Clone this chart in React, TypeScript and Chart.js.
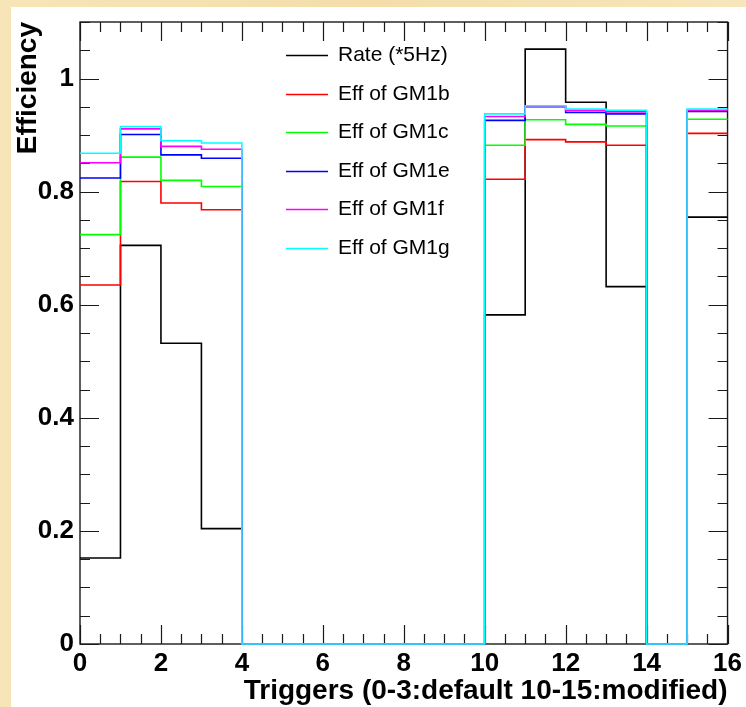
import React, { useEffect, useRef } from "react";
import { Chart, registerables } from "chart.js";

Chart.register(...registerables);

// ---- Data (bins 0..15, width 1) ----
const binLow = [0, 1, 2, 3, 4, 5, 6, 7, 8, 9, 10, 11, 12, 13, 14, 15];
const rate = [0.152, 0.705, 0.532, 0.204, 0, 0, 0, 0, 0, 0, 0.582, 1.052, 0.958, 0.632, 0, 0.755];
const gm1b = [0.635, 0.818, 0.78, 0.768, 0, 0, 0, 0, 0, 0, 0.822, 0.892, 0.888, 0.882, 0, 0.903];
const gm1c = [0.724, 0.861, 0.82, 0.809, 0, 0, 0, 0, 0, 0, 0.882, 0.927, 0.919, 0.916, 0, 0.928];
const gm1e = [0.824, 0.901, 0.865, 0.859, 0, 0, 0, 0, 0, 0, 0.926, 0.95, 0.94, 0.9375, 0, 0.942];
const gm1f = [0.851, 0.911, 0.88, 0.875, 0, 0, 0, 0, 0, 0, 0.933, 0.951, 0.943, 0.941, 0, 0.944];
const gm1g = [0.868, 0.915, 0.89, 0.886, 0, 0, 0, 0, 0, 0, 0.9375, 0.952, 0.946, 0.944, 0, 0.946];

const seriesLabels = ["Rate (*5Hz)", "Eff of GM1b", "Eff of GM1c", "Eff of GM1e", "Eff of GM1f", "Eff of GM1g"];
const seriesValues = [rate, gm1b, gm1c, gm1e, gm1f, gm1g];
const seriesColors = ["#000000", "#ff0000", "#00ff00", "#0000ff", "#ff00ff", "#00ffff"];

const xTickValues = [0, 2, 4, 6, 8, 10, 12, 14, 16];
const yTickValues = [0, 0.2, 0.4, 0.6, 0.8, 1];
const xTitle = "Triggers (0-3:default 10-15:modified)";
const yTitle = "Efficiency";

const FONT = "'Liberation Sans', Arial, Helvetica, sans-serif";

function toSteps(values: number[]) {
  const pts: { x: number; y: number }[] = [];
  values.forEach((v, i) => {
    pts.push({ x: binLow[i], y: v });
    pts.push({ x: binLow[i] + 1, y: v });
  });
  return pts;
}

const framePlugin = {
  id: "rootFrame",
  beforeDatasetsDraw(chart: any) {
    const { ctx, chartArea } = chart;
    const xs = chart.scales.x;
    const ys = chart.scales.y;
    const { left, right, top, bottom } = chartArea;
    ctx.save();
    ctx.strokeStyle = "#1a1a1a";
    ctx.lineWidth = 1.4;
    ctx.strokeRect(left, top, right - left, bottom - top);
    ctx.lineWidth = 1.2;
    ctx.beginPath();
    for (let v = 0; v <= 16.0001; v += 0.5) {
      const px = Math.round(xs.getPixelForValue(v)) + 0.5;
      const major = xTickValues.some((t) => Math.abs(t - v) < 1e-6);
      const len = major ? 19 : 10;
      ctx.moveTo(px, bottom);
      ctx.lineTo(px, bottom - len);
      ctx.moveTo(px, top);
      ctx.lineTo(px, top + len);
    }
    for (let v = 0; v <= 1.1001; v += 0.05) {
      const py = Math.round(ys.getPixelForValue(v)) + 0.5;
      const major = yTickValues.some((t) => Math.abs(t - v) < 1e-6);
      const len = major ? 19 : 10;
      ctx.moveTo(left, py);
      ctx.lineTo(left + len, py);
      ctx.moveTo(right, py);
      ctx.lineTo(right - len, py);
    }
    ctx.stroke();
    ctx.restore();
  },
};

const legendPlugin = {
  id: "rootLegend",
  afterDatasetsDraw(chart: any) {
    const { ctx, chartArea } = chart;
    const x0 = chartArea.left + 206;
    const x1 = chartArea.left + 248;
    const xt = chartArea.left + 258;
    const y0 = chartArea.top + 33;
    const dy = 38.6;
    ctx.save();
    ctx.font = `21px ${FONT}`;
    ctx.textBaseline = "middle";
    ctx.textAlign = "left";
    chart.data.datasets.forEach((ds: any, i: number) => {
      const y = Math.round(y0 + i * dy) + 0.5;
      ctx.strokeStyle = ds.borderColor;
      ctx.lineWidth = 1.5;
      ctx.beginPath();
      ctx.moveTo(x0, y);
      ctx.lineTo(x1, y);
      ctx.stroke();
      ctx.fillStyle = "#000";
      ctx.fillText(ds.label, xt, y);
    });
    ctx.restore();
  },
};

export default function App() {
  const ref = useRef<HTMLCanvasElement | null>(null);
  useEffect(() => {
    if (!ref.current) return;
    const n = seriesValues.length;
    const chart = new Chart(ref.current, {
      type: "line",
      data: {
        datasets: seriesValues.map((vals, i) => ({
          label: seriesLabels[i],
          data: toSteps(vals),
          borderColor: seriesColors[i],
          backgroundColor: seriesColors[i],
          borderWidth: 1.6,
          pointRadius: 0,
          fill: false,
          tension: 0,
          order: n - i,
          clip: 4,
        })),
      },
      options: {
        responsive: false,
        animation: false,
        layout: { padding: { top: 15, right: 18, left: 0, bottom: 0 } },
        plugins: { legend: { display: false }, tooltip: { enabled: false } },
        scales: {
          x: {
            type: "linear",
            min: 0,
            max: 16,
            grid: { display: false, drawTicks: false },
            border: { display: false },
            afterBuildTicks: (s: any) => {
              s.ticks = xTickValues.map((v) => ({ value: v }));
            },
            afterFit: (s: any) => {
              s.height = 63;
            },
            ticks: {
              autoSkip: false,
              maxRotation: 0,
              padding: 4,
              color: "#000",
              font: { family: FONT, size: 26, weight: "bold" },
              callback: (v: any) => String(v),
            },
            title: {
              display: true,
              text: xTitle,
              align: "end",
              color: "#000",
              font: { family: FONT, size: 28, weight: "bold" },
              padding: { top: 0, bottom: -1 },
            },
          },
          y: {
            type: "linear",
            min: 0,
            max: 1.1,
            grid: { display: false, drawTicks: false },
            border: { display: false },
            afterBuildTicks: (s: any) => {
              s.ticks = yTickValues.map((v) => ({ value: v }));
            },
            afterFit: (s: any) => {
              s.width = 69;
              s.paddingTop = 0;
              s.paddingBottom = 0;
            },
            ticks: {
              autoSkip: false,
              padding: 6,
              color: "#000",
              font: { family: FONT, size: 26, weight: "bold", lineHeight: 1 },
              callback: (v: any) => String(Math.round(Number(v) * 10) / 10),
            },
            title: {
              display: true,
              text: yTitle,
              align: "end",
              color: "#000",
              font: { family: FONT, size: 28, weight: "bold" },
              padding: { top: 0, bottom: 0 },
            },
          },
        },
      } as any,
      plugins: [framePlugin, legendPlugin],
    });
    return () => chart.destroy();
  }, []);

  return (
    <div
      style={{
        position: "fixed",
        left: 0,
        top: 0,
        width: 746,
        height: 707,
        background: "linear-gradient(90deg, #f7e5b8 0%, #f3deaa 50%, #f7e6bb 100%)",
        overflow: "hidden",
      }}
    >
      <div style={{ position: "absolute", left: 11, top: 7, width: 735, height: 700, background: "#ffffff" }}>
        <canvas ref={ref} width={735} height={700} style={{ display: "block", width: 735, height: 700 }} />
      </div>
    </div>
  );
}
